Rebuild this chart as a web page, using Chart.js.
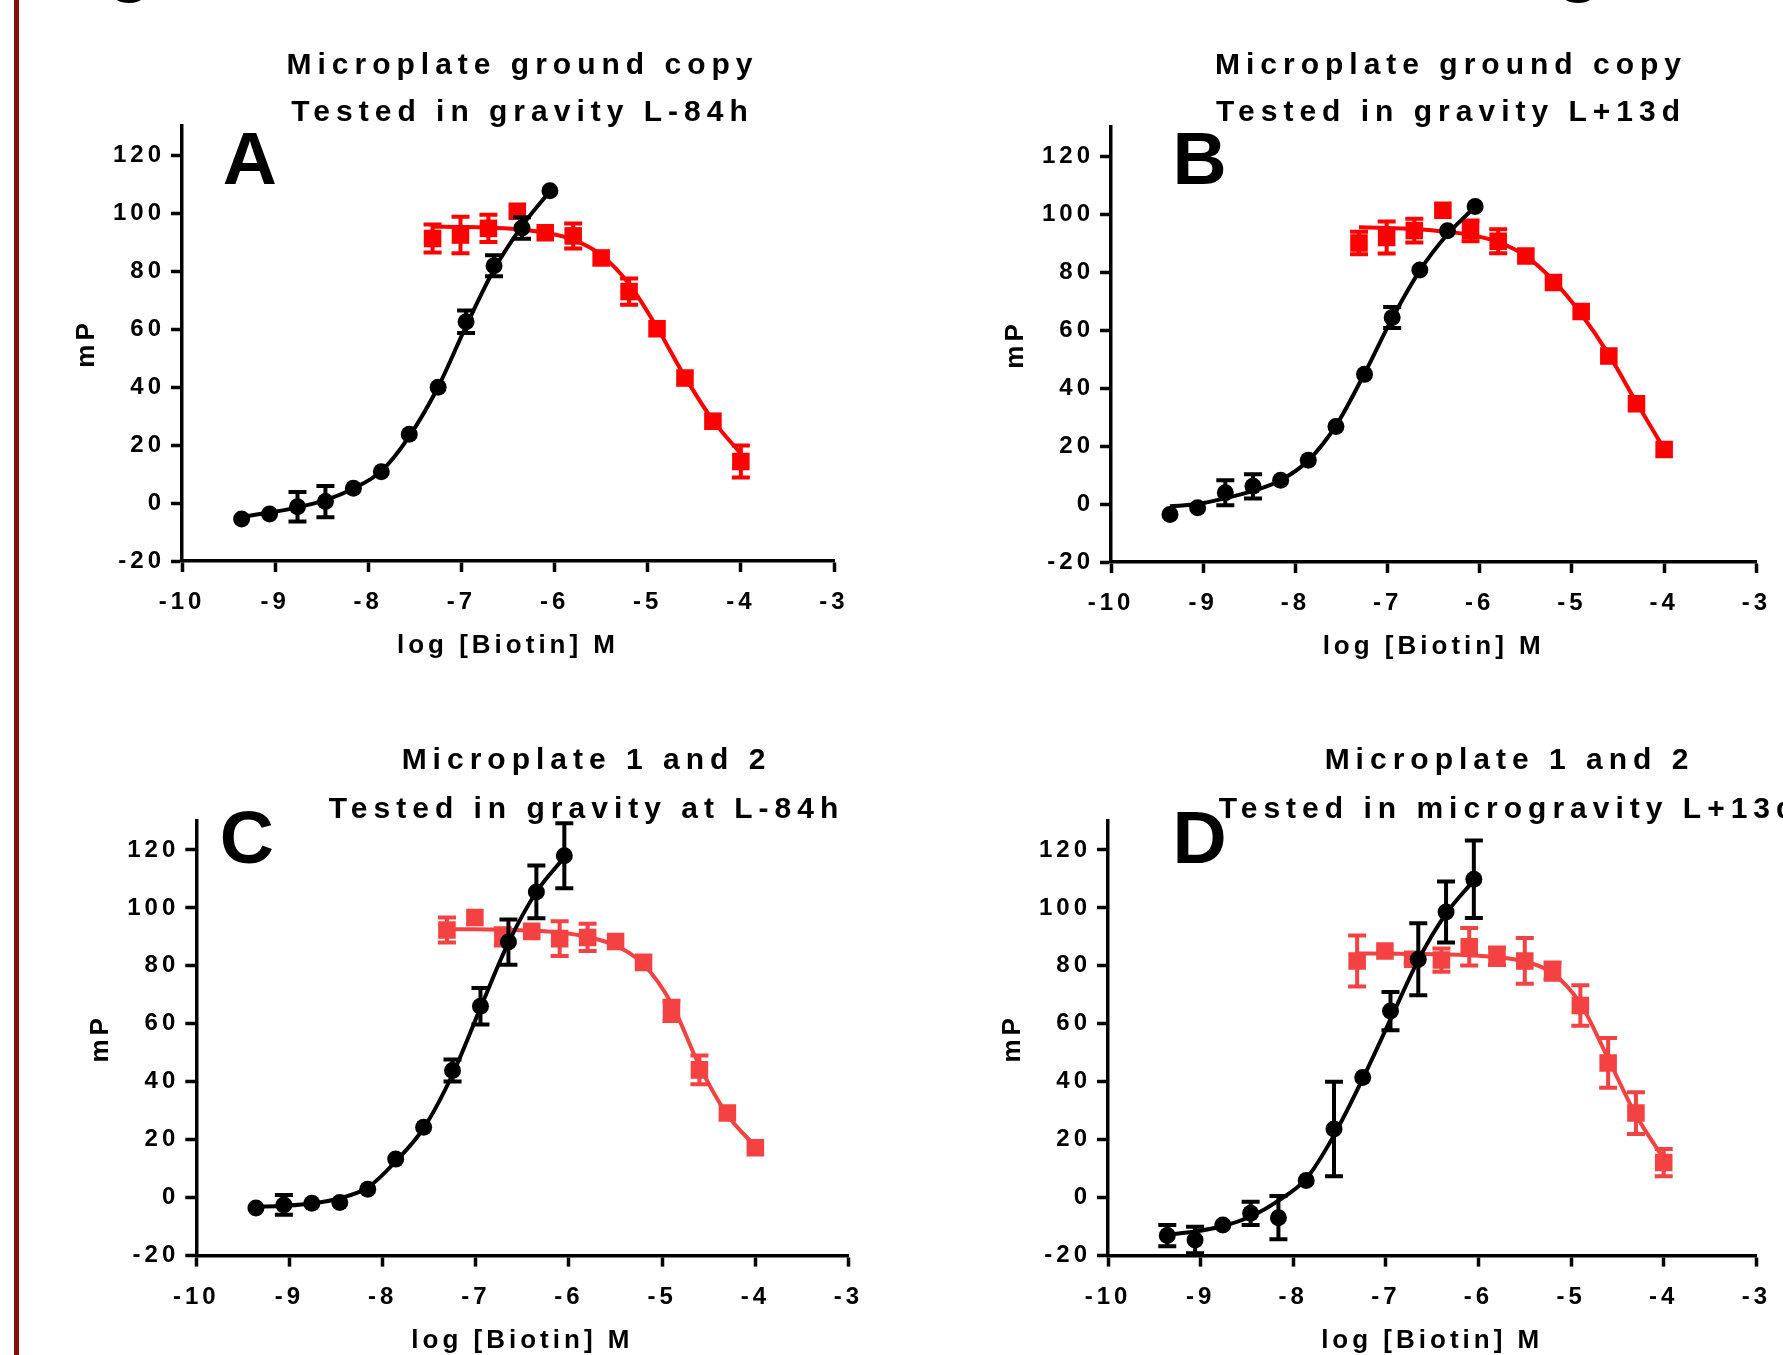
<!DOCTYPE html>
<html>
<head>
<meta charset="utf-8">
<script src="https://cdn.jsdelivr.net/npm/chart.js@4/dist/chart.umd.min.js"></script>
<style>
  html, body { margin: 0; padding: 0; background: #fff; }
  body { width: 1783px; height: 1355px; overflow: hidden; position: relative; }
  canvas { position: absolute; }
  #edge { position: absolute; left: 14px; top: 0; width: 5px; height: 1355px; background: #8c0b0b; }
  .cut { position: absolute; top: -75px; font: bold 75px "Liberation Sans", Arial, sans-serif; line-height: 1; color: #000; }
</style>
</head>
<body>
<div id="edge"></div>
<span class="cut" style="left:107px">g</span>
<span class="cut" style="left:1556px">g</span>
<canvas id="panelA" width="891" height="680" style="left:0;top:0"></canvas>
<canvas id="panelB" width="892" height="680" style="left:891px;top:0"></canvas>
<canvas id="panelC" width="891" height="720" style="left:0;top:680px"></canvas>
<canvas id="panelD" width="892" height="720" style="left:891px;top:680px"></canvas>
<script>
// log [Biotin] M positions of the two dilution series
var logBlack = [-9.36, -9.06, -8.76, -8.46, -8.16, -7.86, -7.56, -7.25, -6.95, -6.65, -6.35, -6.05];
var logRed = [-7.31, -7.01, -6.71, -6.40, -6.10, -5.80, -5.50, -5.20, -4.90, -4.60, -4.30, -4.00];

// A - ground copy, gravity L-84h
var aBlack = [-5.5, -3.8, -1.3, 0.5, 5.1, 10.8, 23.7, 39.9, 62.5, 81.8, 94.8, 107.7];
var aBlackErr = [0, 0, 5.1, 5.4, 0, 0, 0, 0, 3.9, 3.6, 3.7, 0];
var aBlackFit = [-4.8, -3.3, -1.5, 1.0, 5.0, 11.0, 23.0, 40.0, 61.0, 80.5, 95.5, 107.5];
var aRed = [91.2, 92.4, 94.7, 100.6, 93.2, 92.1, 84.5, 72.9, 60.1, 43.1, 28.2, 14.3];
var aRedErr = [4.8, 6.3, 4.7, 0, 0, 4.3, 0, 4.5, 0, 0, 0, 5.5];
var aRedFit = [95.3, 95.2, 95.0, 94.4, 93.2, 90.8, 85.5, 75.5, 60.5, 43.5, 28.5, 17.0];

// B - ground copy, gravity L+13d
var bBlack = [-3.6, -1.3, 3.9, 6.1, 8.2, 15.1, 26.7, 44.7, 64.3, 80.7, 94.2, 102.6];
var bBlackErr = [0, 0, 4.3, 4.2, 0, 0, 0, 0, 3.6, 0, 0, 0];
var bBlackFit = [-0.8, 0.0, 2.0, 4.5, 8.2, 15.0, 27.0, 45.0, 64.0, 80.5, 93.0, 102.5];
var bRed = [90.0, 91.9, 94.3, 101.3, 94.2, 90.6, 85.5, 76.4, 66.4, 51.0, 34.6, 18.8];
var bRedErr = [3.9, 5.5, 4.1, 0, 3.6, 4.1, 0, 0, 0, 0, 0, 0];
var bRedFit = [95.4, 95.2, 94.8, 94.0, 92.8, 90.3, 85.5, 77.0, 65.5, 51.5, 35.0, 19.0];

// C - microplate 1 and 2, gravity L-84h
var cBlack = [-3.6, -2.5, -1.9, -1.7, 2.9, 13.3, 24.3, 43.9, 66.1, 88.2, 105.5, 118.0];
var cBlackErr = [0, 3.4, 0, 0, 0, 0, 0, 3.8, 6.3, 7.8, 9.1, 11.2];
var cBlackFit = [-3.2, -2.8, -2.0, -0.2, 3.5, 12.5, 24.0, 42.5, 65.5, 88.0, 105.5, 117.5];
var cRed = [92.4, 96.7, 90.0, 91.9, 89.4, 89.8, 88.4, 81.2, 64.5, 44.1, 29.2, 17.2];
var cRedErr = [4.3, 0, 3, 0, 6, 4.7, 0, 0, 3.5, 5, 0, 0];
var cRedFit = [92.6, 92.6, 92.5, 92.2, 91.5, 90.0, 87.0, 80.5, 67.0, 45.5, 28.6, 17.7];

// D - microplate 1 and 2, microgravity L+13d
var dBlack = [-13.1, -14.6, -9.4, -5.4, -6.9, 5.9, 23.7, 41.5, 64.4, 82.3, 98.6, 109.9];
var dBlackErr = [3.7, 4.6, 0, 4.0, 7.5, 0, 16.3, 0, 6.6, 12.4, 10.5, 13.4];
var dBlackFit = [-12.8, -11.7, -9.8, -6.5, -1.0, 6.5, 21.5, 41.0, 61.5, 82.0, 98.0, 109.5];
var dRed = [81.7, 85.1, 82.3, 82.0, 86.6, 83.3, 81.7, 78.2, 66.3, 46.5, 29.2, 12.1];
var dRedErr = [8.8, 0, 1.5, 4, 6.5, 3, 7.9, 3, 7.0, 8.6, 7.2, 4.7];
var dRedFit = [84.3, 84.2, 84.1, 84.0, 83.7, 83.0, 81.5, 77.5, 67.0, 48.0, 28.5, 13.5];

var xTicks = [-10, -9, -8, -7, -6, -5, -4, -3];
var yTicks = [-20, 0, 20, 40, 60, 80, 100, 120];

var FONT = '"Liberation Sans", Arial, sans-serif';
Chart.defaults.font.family = FONT;
Chart.defaults.font.weight = 'bold';
Chart.defaults.color = '#000';

function pts(xs, ys) {
    return xs.map(function (x, i) { return {x: x, y: ys[i]}; });
}

// vertical SEM bars with caps, drawn right after their own dataset
var errorBars = {
    id: 'errorBars',
    afterDatasetDraw: function (chart, args) {
        var ds = chart.data.datasets[args.index];
        if (!ds.errors)
            return;
        var ctx = chart.ctx, ys = chart.scales.y;
        ctx.save();
        ctx.strokeStyle = ds.backgroundColor;
        ctx.lineWidth = 4;
        args.meta.data.forEach(function (pt, i) {
            var e = ds.errors[i];
            if (!e)
                return;
            var v = ds.data[i].y;
            var top = ys.getPixelForValue(v + e), bot = ys.getPixelForValue(v - e);
            ctx.beginPath();
            ctx.moveTo(pt.x, top); ctx.lineTo(pt.x, bot);
            ctx.moveTo(pt.x - 9, top); ctx.lineTo(pt.x + 9, top);
            ctx.moveTo(pt.x - 9, bot); ctx.lineTo(pt.x + 9, bot);
            ctx.stroke();
        });
        ctx.restore();
    }
};

// wide letter spacing everywhere, two-line heading and the panel letter
var panelText = {
    id: 'panelText',
    beforeDraw: function (chart) {
        chart.ctx.letterSpacing = '4px';
    },
    afterDraw: function (chart, args, o) {
        var ctx = chart.ctx;
        ctx.save();
        ctx.fillStyle = '#000';
        ctx.textAlign = 'center';
        ctx.textBaseline = 'middle';
        ctx.font = 'bold 30px ' + FONT;
        ctx.letterSpacing = '6px';
        o.lines.forEach(function (t, i) {
            ctx.fillText(t, o.x + 3, o.y[i]);
        });
        ctx.letterSpacing = '0px';
        ctx.textAlign = 'left';
        ctx.textBaseline = 'alphabetic';
        ctx.font = 'bold 75px ' + FONT;
        ctx.fillText(o.letter, o.lx, o.ly);
        ctx.restore();
    }
};

var Y_W = 110.6, X_H = 100.6;

function makePanel(id, p) {
    var el = document.getElementById(id);
    var cl = parseFloat(el.style.left) || 0, ct = parseFloat(el.style.top) || 0;
    var W = el.width, H = el.height;

    var axisGrid = {display: true, drawOnChartArea: false, drawTicks: true, tickLength: 11,
        tickWidth: 3.5, tickColor: '#000', color: '#000'};
    var axisBorder = {display: true, color: '#000', width: 3.5};

    new Chart(el, {
        type: 'scatter',
        data: {
            datasets: [
                {data: pts(logBlack, p.black), errors: p.blackErr, backgroundColor: '#000',
                    pointStyle: 'circle', pointRadius: 8.5, pointBorderWidth: 0},
                {data: pts(logBlack, p.blackFit), showLine: true, borderColor: '#000', borderWidth: 4,
                    pointRadius: 0, cubicInterpolationMode: 'monotone'},
                {data: pts(logRed, p.red), errors: p.redErr, backgroundColor: p.color,
                    pointStyle: 'rect', pointRadius: 12.4, pointBorderWidth: 0},
                {data: pts(logRed, p.redFit), showLine: true, borderColor: p.color, borderWidth: 4,
                    pointRadius: 0, cubicInterpolationMode: 'monotone'}
            ]
        },
        options: {
            responsive: false,
            animation: false,
            events: [],
            devicePixelRatio: 1,
            layout: {
                padding: {
                    left: p.area.l - cl - Y_W,
                    right: cl + W - p.area.r,
                    top: p.area.t - ct,
                    bottom: ct + H - p.area.b - X_H
                }
            },
            scales: {
                x: {
                    type: 'linear', min: xTicks[0], max: xTicks[xTicks.length - 1],
                    afterFit: function (s) { s.height = X_H; },
                    afterBuildTicks: function (s) { s.ticks = xTicks.map(function (v) { return {value: v}; }); },
                    border: axisBorder,
                    grid: axisGrid,
                    ticks: {font: {size: 24, weight: 'bold'}, padding: 16, maxRotation: 0, color: '#000'},
                    title: {display: true, text: 'log [Biotin] M', font: {size: 26, weight: 'bold', lineHeight: 1.2},
                        padding: {top: 0, bottom: 0}, color: '#000'}
                },
                y: {
                    min: -20, max: 130,
                    afterFit: function (s) { s.width = Y_W; },
                    afterBuildTicks: function (s) { s.ticks = yTicks.map(function (v) { return {value: v}; }); },
                    border: axisBorder,
                    grid: axisGrid,
                    ticks: {font: {size: 24, weight: 'bold'}, padding: 6, color: '#000'},
                    title: {display: true, text: 'mP', font: {size: 26, weight: 'bold', lineHeight: 1.2},
                        padding: {top: 0, bottom: 0}, color: '#000'}
                }
            },
            plugins: {
                legend: {display: false},
                tooltip: {enabled: false},
                panelText: {
                    lines: p.title, x: p.tx - cl, y: [p.ty[0] - ct, p.ty[1] - ct],
                    letter: p.letter, lx: p.lx - cl, ly: p.ly - ct
                }
            }
        },
        plugins: [errorBars, panelText]
    });
}

makePanel('panelA', {
    black: aBlack, blackErr: aBlackErr, blackFit: aBlackFit,
    red: aRed, redErr: aRedErr, redFit: aRedFit, color: '#ff0000',
    area: {l: 182, r: 834, t: 126, b: 561},
    title: ['Microplate ground copy', 'Tested in gravity L-84h'], tx: 519.5, ty: [65.5, 112.5],
    letter: 'A', lx: 222.7, ly: 184
});
makePanel('panelB', {
    black: bBlack, blackErr: bBlackErr, blackFit: bBlackFit,
    red: bRed, redErr: bRedErr, redFit: bRedFit, color: '#ff0000',
    area: {l: 1111, r: 1762, t: 127, b: 562},
    title: ['Microplate ground copy', 'Tested in gravity L+13d'], tx: 1448, ty: [65.5, 112.5],
    letter: 'B', lx: 1172.6, ly: 184
});
makePanel('panelC', {
    black: cBlack, blackErr: cBlackErr, blackFit: cBlackFit,
    red: cRed, redErr: cRedErr, redFit: cRedFit, color: '#f44242',
    area: {l: 196.3, r: 848.5, t: 821, b: 1255.6},
    title: ['Microplate 1 and 2', 'Tested in gravity at L-84h'], tx: 583.5, ty: [761, 809.5],
    letter: 'C', lx: 219.7, ly: 863
});
makePanel('panelD', {
    black: dBlack, blackErr: dBlackErr, blackFit: dBlackFit,
    red: dRed, redErr: dRedErr, redFit: dRedFit, color: '#f44242',
    area: {l: 1108, r: 1760, t: 821, b: 1255.6},
    title: ['Microplate 1 and 2', 'Tested in microgravity L+13d'], tx: 1506.5, ty: [761, 809.5],
    letter: 'D', lx: 1172.6, ly: 863
});
</script>
</body>
</html>
